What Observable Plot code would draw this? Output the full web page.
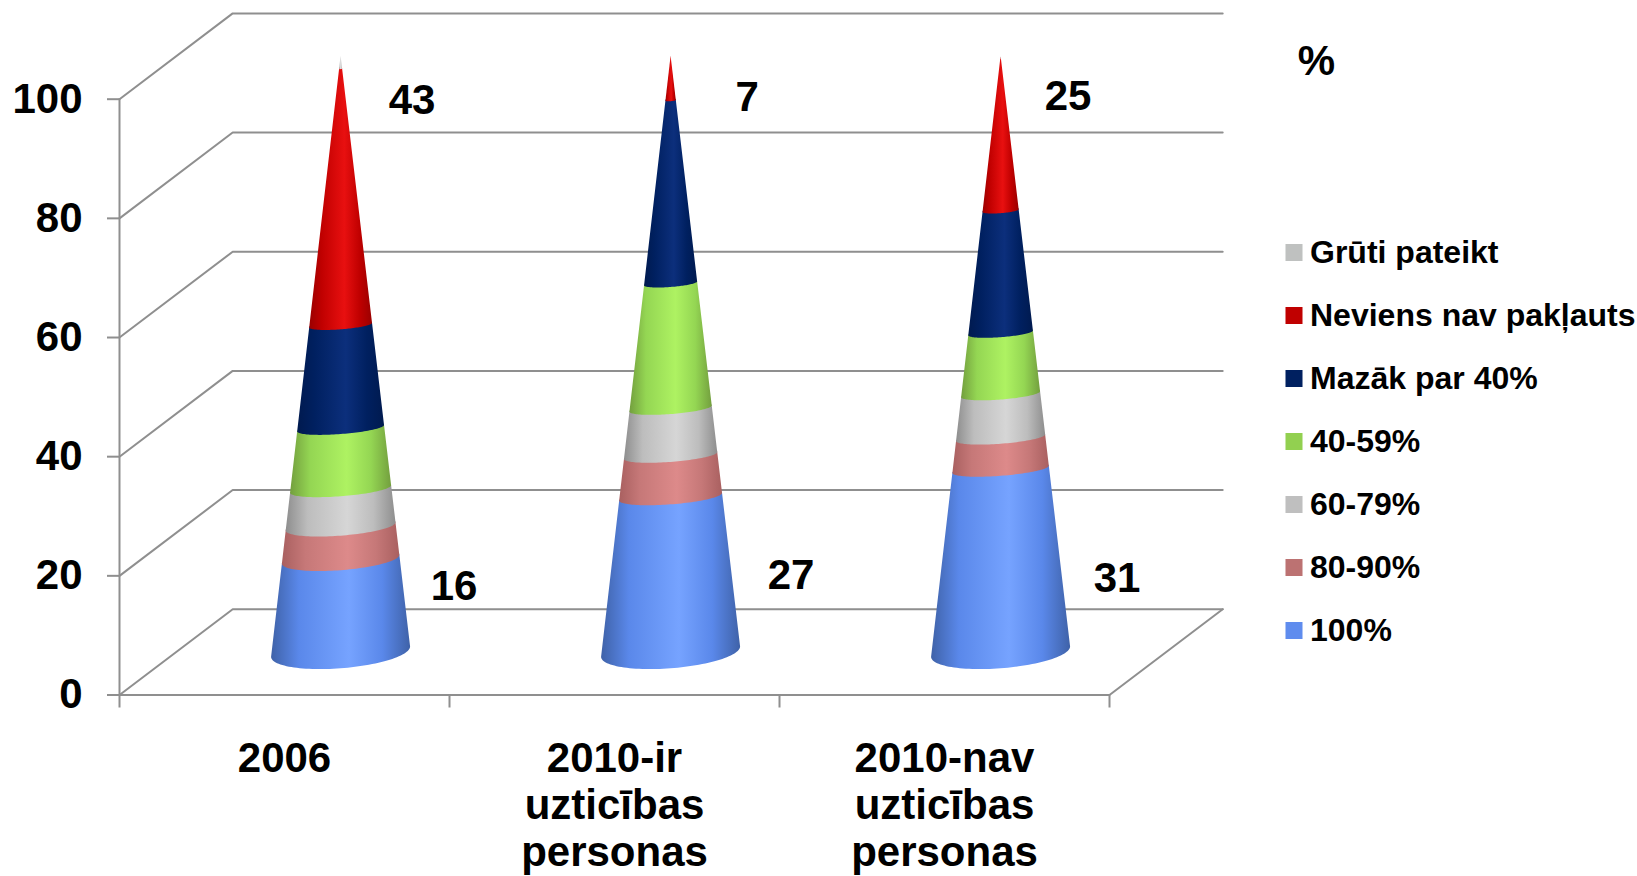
<!DOCTYPE html>
<html><head><meta charset="utf-8">
<script src="https://cdn.jsdelivr.net/npm/d3@7"></script>
<script src="https://cdn.jsdelivr.net/npm/@observablehq/plot@0.6"></script>
<style>
html,body{margin:0;padding:0;background:#fff;overflow:hidden}
#chart{position:relative;width:1637px;height:876px;overflow:hidden}
#chart svg{position:absolute;background:transparent;max-width:none}
</style></head><body><div id="chart"></div>
<script>
// ---- data ----
const categories = ["2006", "2010-ir\nuzticības\npersonas", "2010-nav\nuzticības\npersonas"];
const series = ["100%", "80-90%", "60-79%", "40-59%", "Mazāk par 40%", "Neviens nav pakļauts", "Grūti pateikt"];
const values2006 = [15.5, 5.5, 6.3, 10.2, 17.3, 43, 2.2];
const values2010ir = [26, 6.9, 7.9, 21, 30.7, 7.3, 0.2];
const values2010nav = [30.6, 5.3, 7.3, 10.3, 20.5, 25.5, 0.5];
const yTicks = [0, 20, 40, 60, 80, 100];
// labels printed on the chart: which series and which text
const labelSeries = [[0, "16"], [5, "43"], [0, "27"], [5, "7"], [0, "31"], [5, "25"]];
const labelCone = [0, 0, 1, 1, 2, 2];

// ---- style and layout ----
const legendColors = ["#5F8CEE", "#BC7272", "#BFBFBF", "#92D050", "#002060", "#C00000", "#BFC1C0"];
const shades = [
  ["#3F62A8", "#5A88EA", "#76A3FF"],
  ["#A96060", "#C67878", "#DD8A8A"],
  ["#8E8E8E", "#BDBDBD", "#D6D6D6"],
  ["#739F3E", "#94D653", "#AEF262"],
  ["#001A4F", "#002060", "#0C2F7C"],
  ["#9A0000", "#C00000", "#E81010"],
  ["#A0A0A0", "#C8C8C8", "#E0E0E0"]
];
const labelOffsets = [[113, 27], [71, 31], [120, 78], [76, 40], [116, 109], [67, 37]];
const font = '"Liberation Sans", Arial, sans-serif';
const gridColor = "#8F8F8F";
const pxX = 330, pxY = 5.958;            // px per data unit
const depthX = 0.343, depthY = 14.4;     // oblique offset of the back wall, in data units
const baseR = 69.5, tilt = 0.075;        // cone base, px
const squash = v => 0.135 + 0.105 * Math.max(0, 1 - v / 30); // rings flatten as they rise

const coneValues = [values2006, values2010ir, values2010nav];
const coneX = i => i + 0.5 + depthX / 2;
const coneY = v => v + depthY / 2;
function ring(i, v, t) {
  const r = baseR * (1 - v / 100);
  return [coneX(i) + r * Math.cos(t) / pxX,
          coneY(v) - r * (-tilt * Math.cos(t) + squash(v) * Math.sin(t)) / pxY];
}
const thetas = d3.range(0, 61).map(k => Math.PI * k / 60);
const conePieces = series.map((_, s) => coneValues.flatMap((vals, i) => {
  const v0 = d3.sum(vals.slice(0, s));
  const v1 = v0 + vals[s];
  const top = s < series.length - 1 ? v1 + 0.25 : v1;
  return thetas.map(t => {
    const a = ring(i, v0, t), b = ring(i, Math.min(top, 100), t);
    return {cone: i, x1: a[0], y1: a[1], x2: b[0], y2: b[1]};
  });
}));

// wall: a line per tick from the front axis to the back wall then along it
const wall = yTicks.flatMap(t => [
  {t, x: 0, y: t}, {t, x: depthX, y: t + depthY}, {t, x: 3 + depthX, y: t + depthY}
]);
const floorEdge = [{x: 3 + depthX, y: depthY}, {x: 3, y: 0}, {x: 0, y: 0}, {x: 0, y: 100}];

const defs = () => {
  const d = d3.create("svg:defs");
  shades.forEach((c, s) => {
    const g = d.append("linearGradient").attr("id", "cone" + s).attr("x1", 0).attr("x2", 1).attr("y1", 0).attr("y2", 0);
    [[0, c[0]], [0.2, c[1]], [0.56, c[2]], [0.8, c[1]], [1, c[0]]].forEach(([o, col]) =>
      g.append("stop").attr("offset", o).attr("stop-color", col));
  });
  return d.node();
};

const labelData = labelSeries.map(([s, text], k) => {
  const i = labelCone[k];
  return {x: coneX(i), y: coneY(d3.sum(coneValues[i].slice(0, s + 1))), text, dx: labelOffsets[k][0], dy: labelOffsets[k][1]};
});

const main = Plot.plot({
  width: 1637, height: 876,
  marginLeft: 119, marginRight: 528, marginTop: 98.7, marginBottom: 181.5,
  x: {domain: [0, 3], axis: null},
  y: {domain: [0, 100], axis: null},
  style: {fontFamily: font, background: "transparent", color: "#000"},
  marks: [
    defs,
    Plot.line(wall, {x: "x", y: "y", z: "t", stroke: gridColor, strokeWidth: 2, strokeLinejoin: "miter"}),
    Plot.line(floorEdge, {x: "x", y: "y", stroke: gridColor, strokeWidth: 2, strokeLinejoin: "miter"}),
    Plot.axisY({anchor: "left", ticks: yTicks, tickSize: 12, tickPadding: 25, stroke: gridColor, strokeWidth: 2,
      fontSize: 42, fontWeight: "bold", label: null, tickFormat: d3.format("d")}),
    Plot.axisX({anchor: "bottom", ticks: [0, 1, 2, 3], tickSize: 13, tickFormat: () => "", stroke: gridColor, strokeWidth: 2, label: null}),
    ...conePieces.map((rows, s) => Plot.area(rows, {
      x1: "x1", y1: "y1", x2: "x2", y2: "y2", z: "cone", fill: `url(#cone${s})`, curve: "linear"
    })),
    ...labelData.map(d => Plot.text([d], {x: "x", y: "y", text: "text", dx: d.dx, dy: d.dy, fontSize: 42, fontWeight: "bold", fill: "#000"})),
    Plot.text(categories, {x: (d, i) => i + 0.5, y: () => 0, text: d => d, lineAnchor: "top", dy: 44,
      lineHeight: 1.12, fontSize: 42, fontWeight: "bold", fill: "#000"})
  ]
});
main.style.left = "0"; main.style.top = "0";
document.getElementById("chart").append(main);

// legend and unit
const legendOrder = series.slice().reverse();
const legend = Plot.plot({
  width: 367, height: 640, margin: 0,
  x: {axis: null},
  y: {type: "point", domain: legendOrder, range: [231, 610], padding: 0, axis: null},
  color: {domain: series, range: legendColors},
  style: {fontFamily: font, background: "transparent", color: "#000"},
  marks: [
    Plot.dot(legendOrder, {y: d => d, frameAnchor: "left", dx: 23.5, symbol: "square", r: 9.6, fill: d => d}),
    Plot.text(legendOrder, {y: d => d, text: d => d, frameAnchor: "left", textAnchor: "start", dx: 39.5, fontSize: 32, fontWeight: "bold", fill: "#000"}),
    Plot.text(["%"], {text: d => d, frameAnchor: "top-left", textAnchor: "middle", lineAnchor: "middle", dx: 46, dy: 41, fontSize: 42, fontWeight: "bold", fill: "#000"})
  ]
});
legend.style.left = "1270px"; legend.style.top = "20px";
document.getElementById("chart").append(legend);
</script></body></html>
